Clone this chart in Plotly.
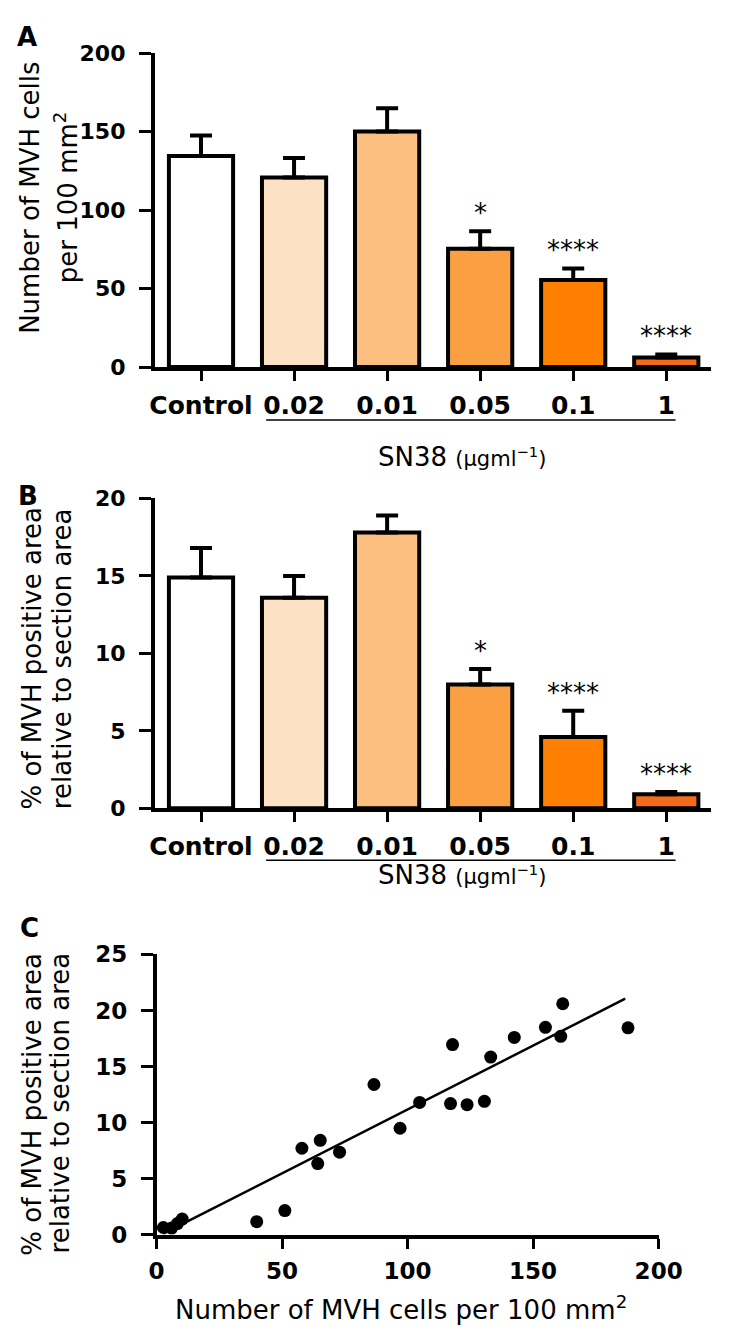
import plotly.graph_objects as go

# ---------------- data ----------------
categories = ["Control", "0.02", "0.01", "0.05", "0.1", "1"]
cells_mean = [134.6, 120.9, 150.2, 75.4, 55.5, 6.2]
cells_err = [13.1, 12.4, 14.8, 11.2, 7.4, 1.9]
area_mean = [14.9, 13.6, 17.8, 8.0, 4.6, 0.9]
area_err = [1.9, 1.4, 1.1, 1.0, 1.7, 0.15]
significance = ["", "", "", "*", "****", "****"]

scatter_cells = [2.7, 6.0, 8.3, 10.2, 39.9, 51.1, 57.9, 64.2, 65.2, 72.9, 86.6, 97.0,
                 104.8, 117.1, 117.9, 123.7, 130.6, 133.1, 142.5, 154.9, 161.0, 161.8, 187.8]
scatter_area = [0.65, 0.6, 1.0, 1.4, 1.17, 2.16, 7.72, 6.35, 8.42, 7.37, 13.4, 9.5,
                11.8, 11.7, 16.96, 11.6, 11.9, 15.85, 17.6, 18.5, 17.7, 20.6, 18.45]
fit_cells = [2.7, 186.7]
fit_area = [0.1, 21.05]

cells_ticks = [0, 50, 100, 150, 200]
area_ticks = [0, 5, 10, 15, 20]
c_xticks = [0, 50, 100, 150, 200]
c_yticks = [0, 5, 10, 15, 20, 25]

# ---------------- styles ----------------
bar_colors = ["#FFFFFF", "#FDE1C4", "#FDBF80", "#FBA042", "#FF8000", "#F26B1D"]
W, H = 732, 1331
FONT = "DejaVu Sans"


def px(x):
    return x / W


def py(y):
    return 1 - y / H


fig = go.Figure()
idx = list(range(len(categories)))


def add_bars(means, errs, xa, ya):
    fig.add_trace(go.Bar(
        x=idx, y=means, width=0.69,
        marker=dict(color=bar_colors, line=dict(color="black", width=4)),
        error_y=dict(type="data", symmetric=False, array=errs, arrayminus=[0] * len(errs),
                     color="black", thickness=4, width=11),
        xaxis=xa, yaxis=ya, showlegend=False, hoverinfo="skip"))


add_bars(cells_mean, cells_err, "x", "y")
add_bars(area_mean, area_err, "x2", "y2")

fig.add_trace(go.Scatter(x=scatter_cells, y=scatter_area, mode="markers",
                         marker=dict(color="black", size=13),
                         xaxis="x3", yaxis="y3", showlegend=False))
fig.add_trace(go.Scatter(x=fit_cells, y=fit_area, mode="lines",
                         line=dict(color="black", width=2.5),
                         xaxis="x3", yaxis="y3", showlegend=False))

tickfont = dict(family=FONT, size=22, color="black", weight="bold")
ctickfont = dict(family=FONT, size=23, color="black", weight="bold")
catfont = dict(family=FONT, size=25, color="black", weight="bold")

common_x = dict(showline=True, linecolor="black", linewidth=4, ticks="outside",
                ticklen=10, tickwidth=3, tickcolor="black", showgrid=False,
                zeroline=False, fixedrange=True, ticklabelstandoff=3)
common_y = dict(showline=True, linecolor="black", linewidth=3.5, ticks="outside",
                ticklen=12, tickwidth=3, tickcolor="black", showgrid=False,
                zeroline=False, fixedrange=True, tickfont=tickfont, ticklabelstandoff=9)

bar_xdom = [px(145), px(727)]
bar_range = [-0.498, 5.483]
fig.update_layout(
    width=W, height=H, margin=dict(l=0, r=0, t=0, b=0),
    paper_bgcolor="white", plot_bgcolor="white",
    xaxis=dict(common_x, domain=bar_xdom, anchor="y", range=bar_range,
               tickvals=idx, ticktext=categories, tickfont=catfont),
    yaxis=dict(common_y, domain=[py(353), py(33)], anchor="x", range=[0, 200],
               tickvals=cells_ticks),
    xaxis2=dict(common_x, domain=bar_xdom, anchor="y2", range=bar_range,
                tickvals=idx, ticktext=categories, tickfont=catfont),
    yaxis2=dict(common_y, domain=[py(803), py(487)], anchor="x2", range=[0, 20],
                tickvals=area_ticks),
    xaxis3=dict(common_x, domain=[px(147), px(672)], anchor="y3", range=[0, 200],
                tickvals=c_xticks, tickfont=ctickfont, linewidth=3.5),
    yaxis3=dict(common_y, domain=[py(1238), py(952)], anchor="x3", range=[0, 25],
                tickvals=c_yticks, tickfont=ctickfont),
)

ann = []
shapes = []
# significance stars
for xa, ya, means, errs in [("x", "y", cells_mean, cells_err), ("x2", "y2", area_mean, area_err)]:
    for i, m, e, s in zip(idx, means, errs, significance):
        if s:
            ann.append(dict(x=i, y=m + e, xref=xa, yref=ya, text=s, showarrow=False,
                            yanchor="bottom", yshift=1,
                            font=dict(family=FONT, size=26, color="black")))

# SN38 brackets and labels
for xa, line_y, lab_y in [("x", 407, 427), ("x2", 856, 888)]:
    shapes.append(dict(type="line", xref=xa, yref="paper", x0=0.70, x1=5.10,
                       y0=py(line_y), y1=py(line_y), line=dict(color="black", width=1.5)))
    ann.append(dict(x=2.81, y=py(lab_y), xref=xa, yref="paper", showarrow=False,
                    text="SN38 <span style='font-size:21px'>(µgml<sup>−1</sup>)</span>",
                    font=dict(family=FONT, size=26, color="black")))

# panel letters
for letter, x, y in [("A", 12, 16), ("B", 13, 484), ("C", 14, 925)]:
    ann.append(dict(x=px(x), y=py(y), xref="paper", yref="paper", text=letter,
                    showarrow=False, xanchor="center", yanchor="middle",
                    font=dict(family=FONT, size=26, color="black", weight="bold")))

titlefont = dict(family=FONT, size=26, color="black")
# y titles (two lines each)
for text, x, y in [("Number of MVH cells", 15, 180), ("per 100 mm<sup>2</sup>", 53, 180),
                   ("% of MVH positive area", 17, 650), ("relative to section area", 48, 650),
                   ("% of MVH positive area", 17, 1105), ("relative to section area", 47, 1103)]:
    ann.append(dict(x=px(x), y=py(y), xref="paper", yref="paper", text=text,
                    textangle=-90, showarrow=False, xanchor="center", yanchor="middle",
                    font=titlefont))

ann.append(dict(x=px(403), y=py(1313), xref="paper", yref="paper",
                text="Number of MVH cells per 100 mm<sup>2</sup>", showarrow=False,
                xanchor="center", yanchor="middle", font=titlefont))

fig.update_layout(annotations=ann, shapes=shapes)
fig.write_html("out.html")
